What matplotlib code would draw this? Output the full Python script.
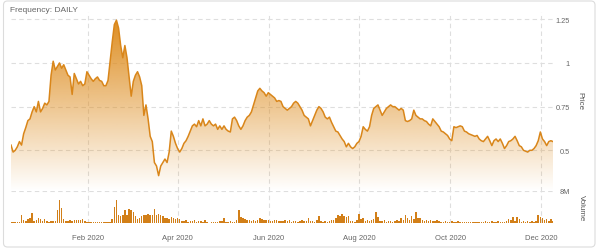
import numpy as np
import pandas as pd
import matplotlib
matplotlib.use("Agg")
import matplotlib.pyplot as plt
import matplotlib.dates as mdates
from matplotlib.patches import FancyBboxPatch, PathPatch

plt.rcParams.update({
    'font.family': 'Liberation Sans',
    'font.size': 5.5,
})

# daily closing price, one value per trading day
price = [
    0.53, 0.49, 0.50, 0.52, 0.55, 0.53, 0.595, 0.63, 0.67, 0.68,
    0.72, 0.75, 0.72, 0.78, 0.72, 0.74, 0.77, 0.76, 0.78, 0.93,
    1.01, 0.96, 0.98, 1.00, 0.97, 0.99, 0.96, 0.93, 0.92, 0.82,
    0.94, 0.91, 0.88, 0.895, 0.87, 0.88, 0.95, 0.93, 0.91, 0.895, 0.91,
    0.92, 0.90, 0.895, 0.87, 0.87, 0.90, 1.01, 1.12, 1.22, 1.245,
    1.20, 1.10, 1.03, 1.10, 1.03, 0.92, 0.81, 0.895, 0.93, 0.95,
    0.92, 0.87, 0.70, 0.76, 0.68, 0.58, 0.55, 0.43, 0.41, 0.355,
    0.41, 0.43, 0.45, 0.43, 0.49, 0.61, 0.58, 0.54, 0.51, 0.49,
    0.51, 0.54, 0.555, 0.58, 0.61, 0.64, 0.65, 0.635,
    0.67, 0.64, 0.68, 0.64, 0.65, 0.67, 0.65, 0.64, 0.65, 0.62,
    0.64, 0.62, 0.64, 0.62, 0.61, 0.605, 0.68, 0.69, 0.67, 0.64,
    0.62, 0.64, 0.67, 0.69, 0.70, 0.72, 0.76, 0.80, 0.84, 0.855,
    0.84, 0.83, 0.81, 0.83, 0.82, 0.81, 0.80, 0.78, 0.785, 0.78,
    0.75, 0.74, 0.73, 0.74, 0.75,
    0.77, 0.78, 0.77, 0.75, 0.73, 0.70, 0.69, 0.68, 0.64, 0.67,
    0.70, 0.73, 0.75, 0.74, 0.72, 0.69, 0.68, 0.69, 0.66, 0.635,
    0.61, 0.605, 0.585, 0.565, 0.55, 0.52, 0.54, 0.52, 0.51, 0.52,
    0.54, 0.55, 0.58, 0.635, 0.62, 0.61, 0.635, 0.70, 0.74, 0.75,
    0.76, 0.73, 0.70, 0.72, 0.74, 0.75,
    0.76, 0.75, 0.75, 0.74, 0.73, 0.74, 0.73, 0.67, 0.665, 0.67,
    0.68, 0.73, 0.70, 0.69, 0.68, 0.68, 0.67, 0.665, 0.65, 0.64,
    0.68, 0.665, 0.65, 0.635, 0.61, 0.605, 0.595, 0.585, 0.565, 0.555,
    0.635, 0.63, 0.635, 0.64, 0.635, 0.61, 0.605, 0.595, 0.59, 0.585,
    0.58, 0.585, 0.565, 0.555, 0.55,
    0.565, 0.58, 0.555, 0.527, 0.555, 0.565, 0.55, 0.565, 0.54, 0.51,
    0.527, 0.55, 0.555, 0.565, 0.58, 0.555, 0.527, 0.52, 0.50, 0.495,
    0.49, 0.50, 0.50, 0.51, 0.527, 0.555, 0.605, 0.565, 0.55, 0.527,
    0.55, 0.555, 0.55,
]

# daily volume, millions of shares
volume = [
    0.3, 0.2, 0.3, 0.2, 0.3, 2.1, 0.8, 0.6, 1.0, 1.2,
    2.5, 0.5, 0.8, 1.2, 1.0, 0.6, 1.0, 0.5, 0.4, 0.5,
    0.5, 0.6, 3.2, 5.7, 3.8, 1.0, 0.5, 0.5, 0.7, 0.6,
    0.7, 0.8, 0.9, 0.9, 1.1, 0.5, 0.2, 0.3, 0.2, 0.3,
    0.4, 0.2, 0.3, 0.2, 0.2, 0.3, 0.2, 0.3, 1.0, 4.0,
    5.8, 2.0, 1.8, 2.0, 3.2, 2.0, 3.5, 3.4, 2.9, 1.7,
    1.1, 1.2, 1.8, 2.0, 2.0, 2.2, 2.0, 2.0, 3.5, 2.0,
    2.3, 2.1, 1.8, 1.2, 1.4, 1.0, 1.5, 1.2, 1.0, 1.4,
    1.0, 0.6, 0.5, 0.7, 0.4, 0.6, 0.5, 0.8, 0.4, 0.5,
    0.6, 0.4, 0.8, 0.2, 0.1, 0.2, 0.3, 0.3, 0.3, 0.5,
    0.6, 1.2, 0.4, 0.3, 0.5, 0.3, 0.4, 0.8, 3.3, 1.5,
    1.3, 1.0, 0.7, 0.9, 0.6, 0.8, 0.6, 0.7, 1.2, 1.0,
    0.8, 0.7, 0.9, 0.6, 0.5, 0.8, 0.7, 0.6, 0.5, 0.6,
    0.8, 0.5, 0.7, 0.4, 0.6, 0.5, 0.4, 0.6, 0.8, 0.5,
    0.6, 1.2, 0.5, 0.6, 0.4, 0.8, 1.8, 0.6, 0.4, 0.5,
    0.3, 0.6, 0.8, 0.9, 1.2, 2.0, 1.7, 2.2, 1.8, 1.5,
    1.9, 0.5, 0.6, 0.4, 0.8, 2.3, 1.0, 1.2, 0.6, 0.8,
    0.5, 0.7, 1.0, 2.9, 1.5, 0.6, 0.5, 0.7, 0.4, 0.6,
    0.5, 0.4, 0.6, 0.8, 0.6, 1.4, 0.8, 2.0, 1.2, 0.7,
    1.8, 1.0, 2.9, 1.2, 1.2, 0.7, 0.6, 0.8, 0.5, 0.7,
    0.6, 0.5, 0.7, 0.6, 0.4, 0.4, 0.5, 0.3, 0.4, 0.6,
    0.3, 0.4, 0.5, 0.3, 0.2, 0.4, 0.3, 0.2, 0.2, 0.3,
    0.2, 0.4, 0.3, 0.4, 0.3, 0.5, 0.4, 0.3, 0.5, 0.4,
    0.3, 0.5, 0.3, 0.4, 0.3, 0.6, 1.0, 0.7, 1.6, 0.6,
    1.5, 1.0, 0.4, 0.5, 0.3, 0.6, 0.4, 0.5, 0.4, 0.6,
    2.0, 1.5, 1.3, 0.7, 1.0, 0.6, 1.0, 0.6,
]

start_date = '2019-12-11'
end_date = '2020-12-09'
month_ticks = ['2020-02-01', '2020-04-01', '2020-06-01', '2020-08-01', '2020-10-01', '2020-12-01']
price_ticks = [0.5, 0.75, 1, 1.25]
price_labels = ['0.5', '0.75', '1', '1.25']
volume_ticks = [8]
volume_labels = ['8M']

dates = pd.date_range(start_date, end_date, periods=len(price))
xnum = mdates.date2num(dates)
ticks = mdates.date2num(pd.to_datetime(month_ticks))

line_color = '#d9861a'
bar_color = '#d27f18'
grid_color = '#dedede'
text_color = '#666666'

W, H = 600, 253
fig = plt.figure(figsize=(W / 100, H / 100), dpi=100)

# outer frame, drawn behind the axes
frame = FancyBboxPatch((0.035, 0.05), 5.915, 2.46, boxstyle='round,pad=0,rounding_size=0.04',
                       transform=fig.dpi_scale_trans, facecolor='none', edgecolor='#dcdcdc',
                       lw=0.8, zorder=-10)
fig.patches.append(frame)

left, right = 11 / W, 553 / W
ax = fig.add_axes([left, (H - 192) / H, right - left, (192 - 13) / H])
axv = fig.add_axes([left, (H - 224.3) / H, right - left, (224.3 - 192) / H])

ymin, ymax = 0.267, 1.292

# gradient area under the price line
poly = ax.fill_between(xnum, price, ymin, facecolor='none', edgecolor='none')
clip = PathPatch(poly.get_paths()[0], transform=ax.transData, facecolor='none', edgecolor='none')
ax.add_patch(clip)
rgb = matplotlib.colors.to_rgb('#de8e22')
grad = np.zeros((256, 1, 4))
grad[:, 0, :3] = rgb
grad[:, 0, 3] = np.linspace(0, 1, 256)
img = ax.imshow(grad, extent=[xnum[0], xnum[-1], ymin, max(price)], aspect='auto',
                origin='lower', zorder=1)
img.set_clip_path(clip)
ax.set_xlim(xnum[0], xnum[-1])
ax.set_ylim(ymin, ymax)
ax.plot(xnum, price, color=line_color, lw=1.1, zorder=3, solid_joinstyle='round')

bars = axv.bar(xnum, volume, width=1.0, color=bar_color, lw=0, zorder=3)
for b in bars:
    b.set_snap(True)
axv.set_xlim(xnum[0], xnum[-1])
axv.set_ylim(0, 8)

for a in (ax, axv):
    a.set_facecolor('none')
    for s in a.spines.values():
        s.set_visible(False)
    a.set_xticks(ticks)
    a.grid(True, color=grid_color, lw=0.8, dashes=(4, 3))
    a.set_axisbelow(True)
    a.yaxis.tick_right()
    a.tick_params(length=0, colors=text_color, labelsize=5.3)

ax.set_xticklabels([])
ax.set_yticks(price_ticks)
ax.set_yticklabels(price_labels)
axv.set_yticks(volume_ticks)
axv.set_yticklabels(volume_labels)
for a in (ax, axv):
    for lab in a.get_yticklabels():
        lab.set_horizontalalignment('right')
    a.tick_params(axis='y', pad=12.2)

axv.xaxis.set_major_formatter(mdates.DateFormatter('%b %Y'))
axv.tick_params(axis='x', pad=7.5, labelsize=5.5)

fig.text(580 / W, 1 - 101 / H, 'Price', rotation=-90, ha='center', va='center',
         color='#555555', fontsize=5.7)
fig.text(581 / W, 1 - 208 / H, 'Volume', rotation=-90, ha='center', va='center',
         color='#555555', fontsize=5.7)
fig.text(10 / W, 1 - 11 / H, 'Frequency: DAILY', ha='left', va='center',
         color=text_color, fontsize=6)

fig.savefig('out.png', dpi=100)
